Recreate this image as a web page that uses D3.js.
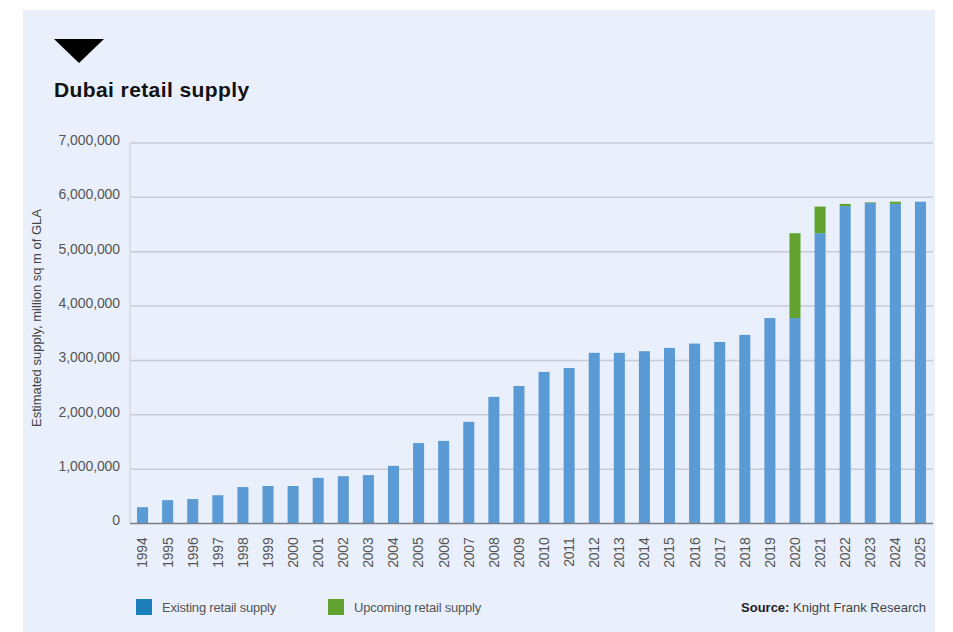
<!DOCTYPE html>
<html>
<head>
<meta charset="utf-8">
<script src="https://cdn.jsdelivr.net/npm/d3@7"></script>
<style>
  html, body { margin: 0; padding: 0; background: #ffffff; }
  svg { display: block; }
  text { font-family: "Liberation Sans", Arial, Helvetica, sans-serif; }
</style>
</head>
<body>
<div id="chart"></div>
<script>
// Dubai retail supply, sq m of GLA
const years = ["1994","1995","1996","1997","1998","1999","2000","2001","2002","2003",
  "2004","2005","2006","2007","2008","2009","2010","2011","2012","2013","2014",
  "2015","2016","2017","2018","2019","2020","2021","2022","2023","2024","2025"];

const existing = [300000, 430000, 450000, 520000, 670000, 690000, 690000, 840000, 870000, 890000,
  1060000, 1480000, 1520000, 1870000, 2330000, 2530000, 2790000, 2860000, 3140000, 3140000, 3170000,
  3230000, 3310000, 3340000, 3470000, 3780000, 3780000, 5340000, 5840000, 5900000, 5880000, 5920000];

const upcoming = [0, 0, 0, 0, 0, 0, 0, 0, 0, 0,
  0, 0, 0, 0, 0, 0, 0, 0, 0, 0, 0,
  0, 0, 0, 0, 0, 1560000, 490000, 40000, 10000, 40000, 0];

const yTicks = [0, 1000000, 2000000, 3000000, 4000000, 5000000, 6000000, 7000000];

const seriesNames = ["Existing retail supply", "Upcoming retail supply"];
const barColors = ["#5b9bd5", "#62a22f"];
const legendColors = ["#1c7eba", "#62a22f"];

const W = 953, H = 632;
const plot = { left: 130, right: 933, top: 143, bottom: 523.5 };

const svg = d3.select("#chart").append("svg")
  .attr("width", W).attr("height", H);

// panel
svg.append("rect")
  .attr("x", 23).attr("y", 10).attr("width", 912).attr("height", 622)
  .attr("fill", "#eaf0fb");

// header marker and title
svg.append("path")
  .attr("d", "M54,39 L104,39 L79,63 Z")
  .attr("fill", "#000");
svg.append("text")
  .attr("x", 54).attr("y", 97)
  .attr("font-size", 21).attr("font-weight", "bold")
  .attr("letter-spacing", "0.4px")
  .attr("fill", "#111")
  .text("Dubai retail supply");

const x = d3.scaleBand().domain(years).range([plot.left, plot.right]).paddingInner(0.56).paddingOuter(0.28);
const y = d3.scaleLinear().domain([0, 7000000]).range([plot.bottom, plot.top]);

// gridlines
svg.append("g")
  .selectAll("line")
  .data(yTicks.filter(d => d > 0))
  .join("line")
  .attr("x1", plot.left).attr("x2", plot.right)
  .attr("y1", d => y(d)).attr("y2", d => y(d))
  .attr("stroke", "#c6cbd6").attr("stroke-width", 1.5);

// left axis line
svg.append("line")
  .attr("x1", plot.left).attr("x2", plot.left)
  .attr("y1", plot.top).attr("y2", plot.bottom)
  .attr("stroke", "#d3d8e2").attr("stroke-width", 1.5);

// y axis labels
const yAxis = d3.axisLeft(y).tickValues(yTicks).tickSize(0).tickPadding(10)
  .tickFormat(d3.format(","));
const gy = svg.append("g").attr("transform", `translate(${plot.left},0)`).call(yAxis);
gy.select(".domain").remove();
gy.selectAll("text")
  .attr("font-size", 14).attr("letter-spacing", "-0.1px")
  .attr("fill", "#555").attr("font-family", "\"Liberation Sans\", Arial, sans-serif")
  .attr("dy", "0.1em");

// y axis title
svg.append("text")
  .attr("transform", "translate(41,318) rotate(-90)")
  .attr("text-anchor", "middle")
  .attr("font-size", 13).attr("letter-spacing", "0px")
  .attr("fill", "#444")
  .text("Estimated supply, million sq m of GLA");

// stacked bars
const rows = years.map((yr, i) => ({ year: yr, existing: existing[i], upcoming: upcoming[i] }));
const stack = d3.stack().keys(["existing", "upcoming"])(rows);

svg.append("g")
  .selectAll("g")
  .data(stack)
  .join("g")
  .attr("fill", (d, i) => barColors[i])
  .selectAll("rect")
  .data(d => d.filter(s => s[1] - s[0] > 0))
  .join("rect")
  .attr("x", d => x(d.data.year))
  .attr("width", x.bandwidth())
  .attr("y", d => y(d[1]))
  .attr("height", d => y(d[0]) - y(d[1]));

// bottom axis
const xAxis = d3.axisBottom(x).tickSize(0).tickPadding(0);
const gx = svg.append("g").attr("transform", `translate(0,${plot.bottom})`).call(xAxis);
gx.select(".domain").attr("stroke", "#7a7e86").attr("stroke-width", 1.5)
  .attr("d", `M${plot.left},0H${plot.right}`);
gx.selectAll("text")
  .attr("font-size", 14).attr("letter-spacing", "-0.2px")
  .attr("fill", "#555").attr("font-family", "\"Liberation Sans\", Arial, sans-serif")
  .attr("text-anchor", "end")
  .attr("transform", "rotate(-90)")
  .attr("x", -14).attr("y", 0).attr("dy", "0.35em");

// legend
const legend = svg.append("g");
const legendX = [136, 328];
seriesNames.forEach((name, i) => {
  legend.append("rect")
    .attr("x", legendX[i]).attr("y", 599).attr("width", 16).attr("height", 16)
    .attr("fill", legendColors[i]);
  legend.append("text")
    .attr("x", legendX[i] + 26).attr("y", 612)
    .attr("font-size", 13).attr("letter-spacing", "-0.2px")
    .attr("fill", "#555")
    .text(name);
});

// source note
const src = svg.append("text")
  .attr("x", 926).attr("y", 612)
  .attr("text-anchor", "end")
  .attr("font-size", 13).attr("letter-spacing", "0px")
  .attr("fill", "#222");
src.append("tspan").attr("font-weight", "bold").text("Source: ");
src.append("tspan").attr("fill", "#444").text("Knight Frank Research");
</script>
</body>
</html>
